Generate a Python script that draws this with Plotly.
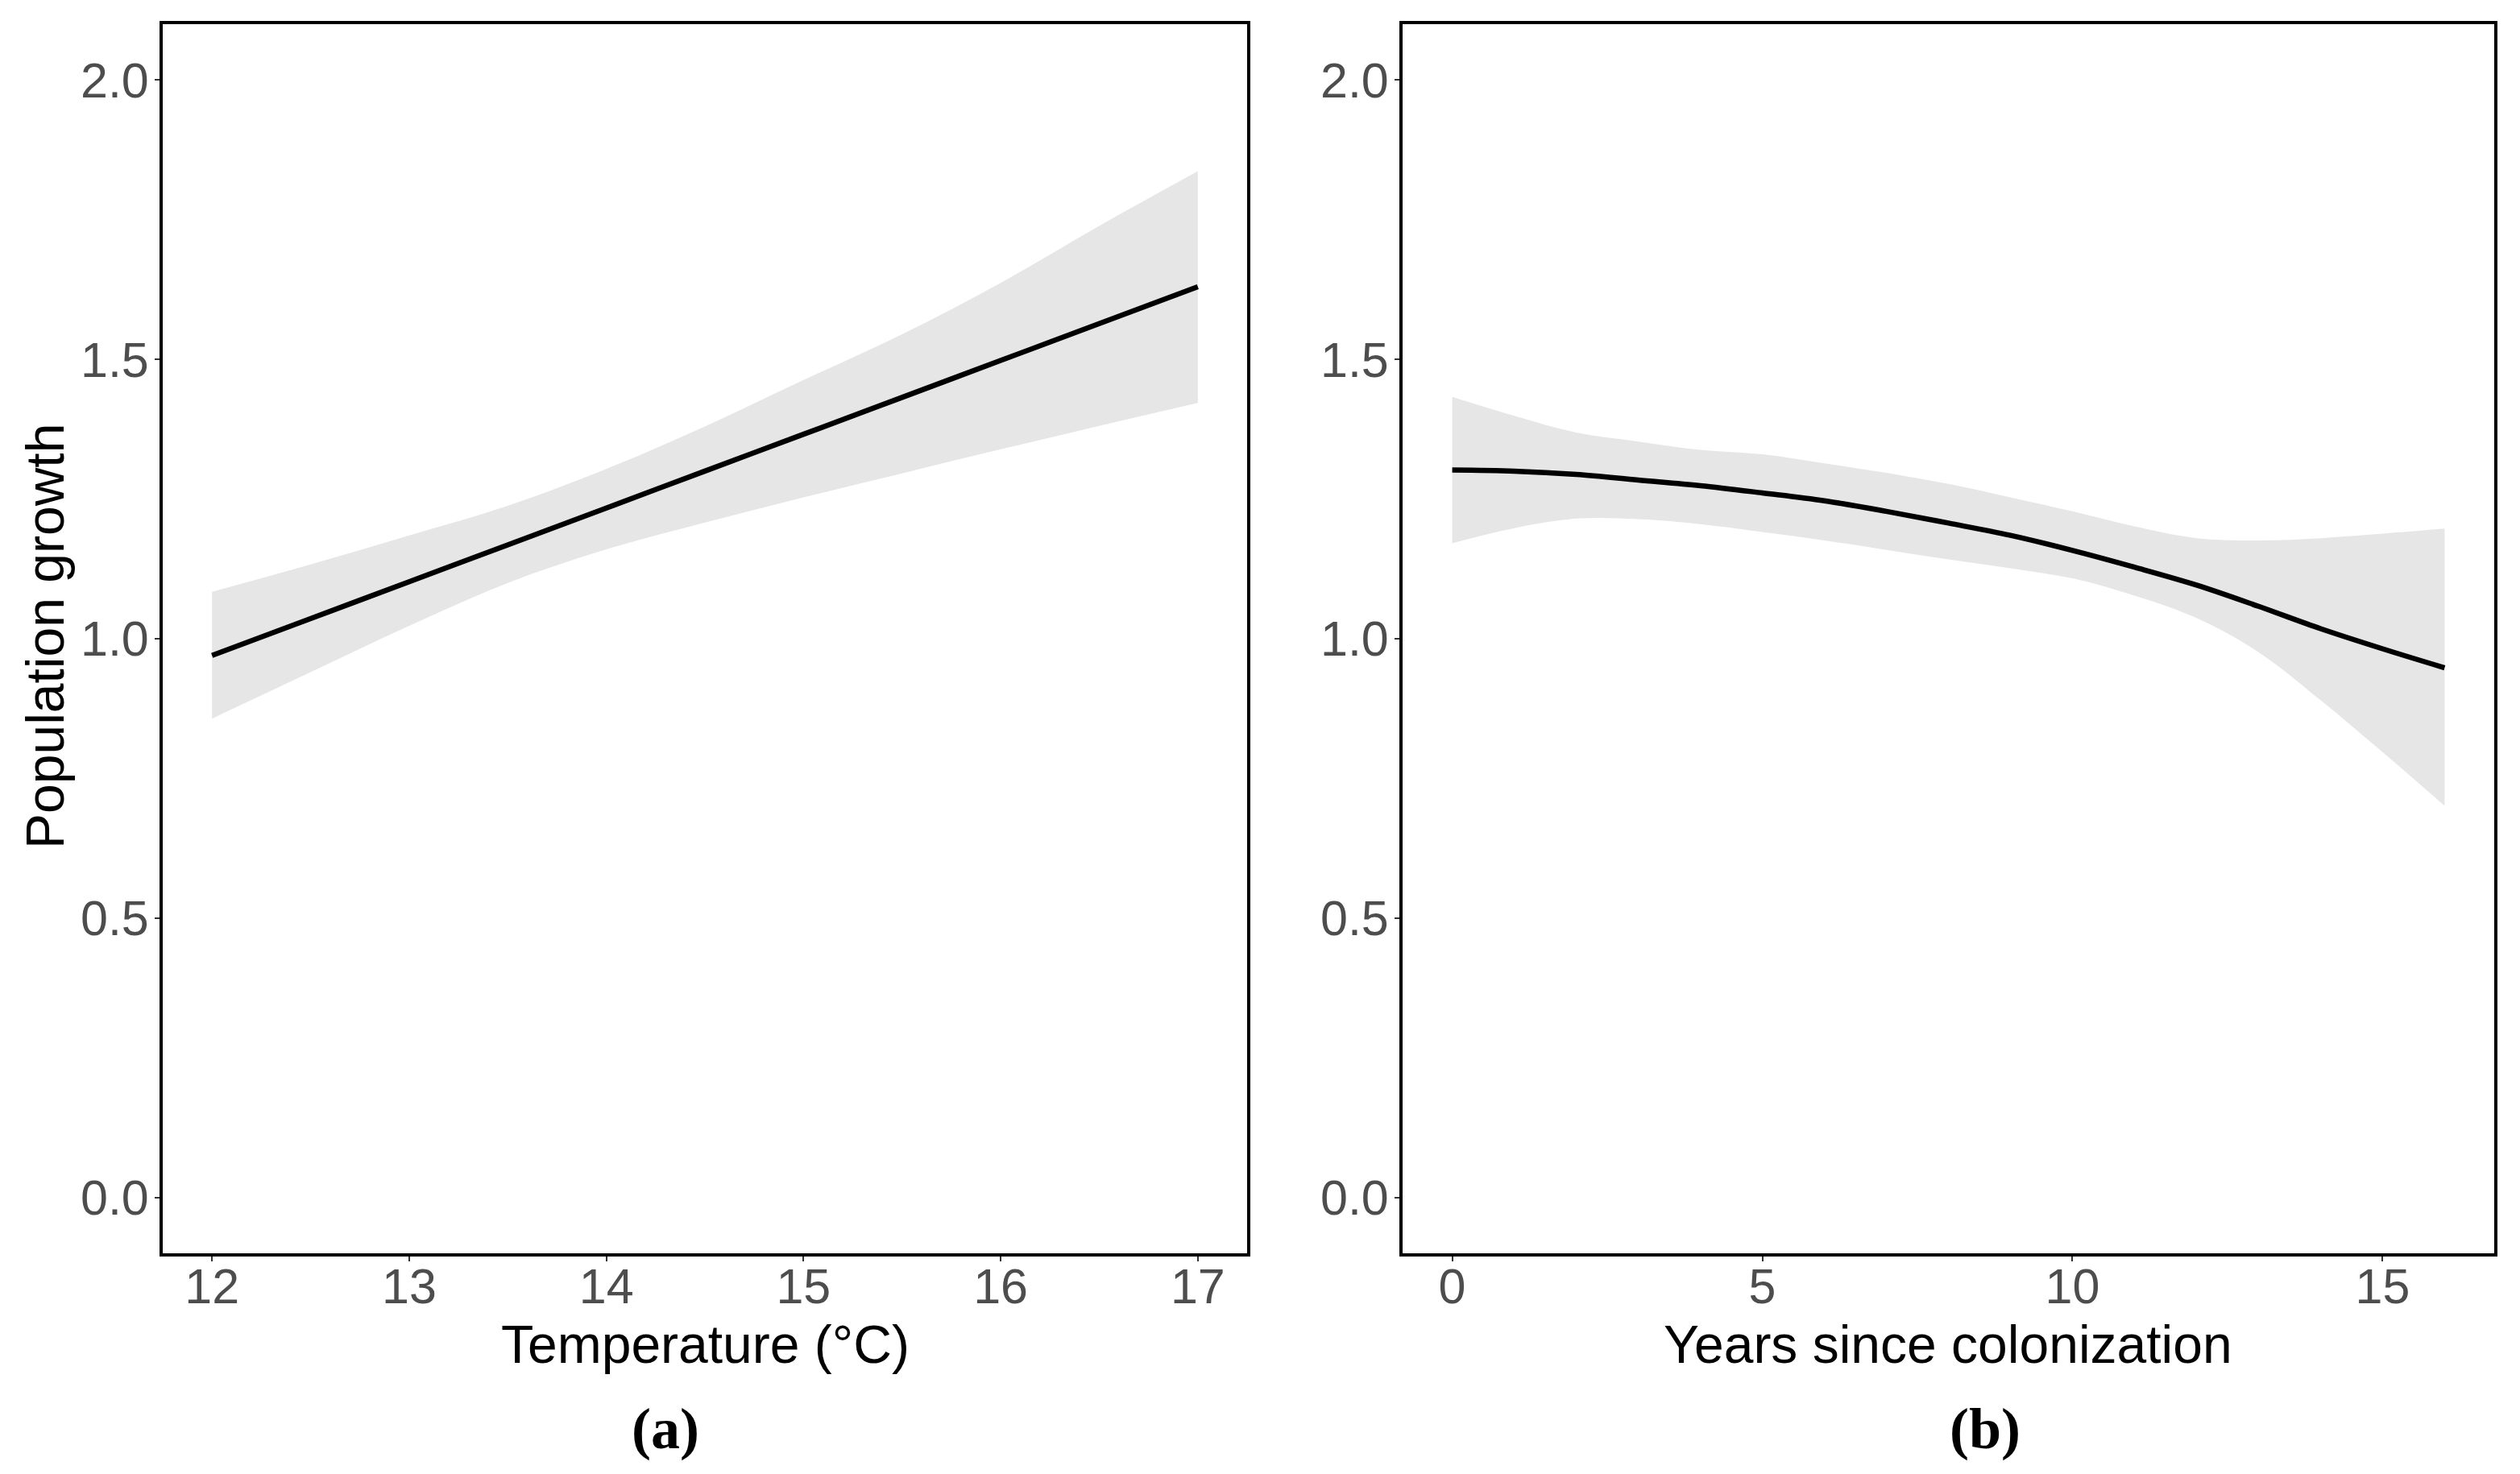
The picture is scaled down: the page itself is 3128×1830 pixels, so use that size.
import plotly.graph_objects as go

# Panel (a): temperature effect
temp_x = [12, 12.5, 13, 13.5, 14, 14.5, 15, 15.5, 16, 16.5, 17]
temp_fit = [0.970, 1.036, 1.102, 1.168, 1.234, 1.300, 1.366, 1.432, 1.498, 1.564, 1.630]
temp_upper = [1.084, 1.133, 1.185, 1.238, 1.304, 1.380, 1.463, 1.545, 1.637, 1.739, 1.837]
temp_lower = [0.857, 0.940, 1.023, 1.100, 1.160, 1.208, 1.253, 1.296, 1.339, 1.381, 1.422]

# Panel (b): years since colonization effect
years_x = list(range(0, 17))
years_fit = [1.302, 1.300, 1.294, 1.284, 1.274, 1.261, 1.247, 1.228, 1.207, 1.185,
             1.158, 1.128, 1.096, 1.058, 1.018, 0.982, 0.948]
years_upper = [1.433, 1.399, 1.369, 1.353, 1.338, 1.330, 1.314, 1.297, 1.277, 1.253,
               1.228, 1.201, 1.180, 1.176, 1.180, 1.188, 1.197]
years_lower = [1.171, 1.198, 1.215, 1.214, 1.205, 1.191, 1.176, 1.159, 1.142, 1.126,
               1.108, 1.077, 1.037, 0.976, 0.890, 0.797, 0.701]

y_ticks = [0.0, 0.5, 1.0, 1.5, 2.0]
y_tick_text = ["0.0", "0.5", "1.0", "1.5", "2.0"]
temp_ticks = [12, 13, 14, 15, 16, 17]
years_ticks = [0, 5, 10, 15]

x_titles = ["Temperature (°C)", "Years since colonization"]
y_title = "Population growth"
panel_labels = ["(a)", "(b)"]

RIBBON = "#E6E6E6"
OFF = 8                      # default page body margin
W, H = 3128 - 2 * OFF, 1830 - 2 * OFF


def px(xp):
    return (xp - OFF) / W


def py(yp):
    return 1 - (yp - OFF) / H


fig = go.Figure()


def add_panel(xs, fit, up, lo, xa, ya):
    fig.add_trace(go.Scatter(x=xs, y=lo, mode="lines", line=dict(width=0, color=RIBBON, shape="spline"),
                             xaxis=xa, yaxis=ya, showlegend=False, hoverinfo="skip"))
    fig.add_trace(go.Scatter(x=xs, y=up, mode="lines", line=dict(width=0, color=RIBBON, shape="spline"),
                             fill="tonexty", fillcolor=RIBBON,
                             xaxis=xa, yaxis=ya, showlegend=False, hoverinfo="skip"))
    fig.add_trace(go.Scatter(x=xs, y=fit, mode="lines", line=dict(width=6.5, color="black", shape="spline"),
                             xaxis=xa, yaxis=ya, showlegend=False))


add_panel(temp_x, temp_fit, temp_upper, temp_lower, "x", "y")
add_panel(years_x, years_fit, years_upper, years_lower, "x2", "y2")

ydom = [py(1556), py(30)]
tick_font = dict(family="Liberation Sans, Arial, sans-serif", size=61, color="#4D4D4D")
title_font = dict(family="Liberation Sans, Arial, sans-serif", size=66, color="black")

common_axis = dict(showline=True, linewidth=4, linecolor="black", mirror=True,
                   ticks="outside", ticklen=6, tickwidth=2, tickcolor="#333333",
                   showgrid=False, zeroline=False, tickfont=tick_font)

fig.update_layout(
    width=W, height=H,
    margin=dict(l=0, r=0, t=0, b=0),
    paper_bgcolor="white", plot_bgcolor="white",
    xaxis=dict(domain=[px(202), px(1548)], range=[11.75, 17.25], tickvals=temp_ticks,
               anchor="y", ticklabelstandoff=-21, **common_axis),
    yaxis=dict(domain=ydom, range=[-0.1, 2.1], tickvals=y_ticks, ticktext=y_tick_text,
               anchor="x", ticklabelstandoff=-5, **common_axis),
    xaxis2=dict(domain=[px(1741), px(3096)], range=[-0.8, 16.8], tickvals=years_ticks,
                anchor="y2", ticklabelstandoff=-21, **common_axis),
    yaxis2=dict(domain=ydom, range=[-0.1, 2.1], tickvals=y_ticks, ticktext=y_tick_text,
                anchor="x2", ticklabelstandoff=-5, **common_axis),
)

# axis titles
for txt, xc in zip(x_titles, [875, 2418]):
    fig.add_annotation(text=txt, x=px(xc), y=py(1669), xref="paper", yref="paper",
                       showarrow=False, font=title_font, xanchor="center", yanchor="middle")
fig.add_annotation(text=y_title, x=px(56), y=py(790), xref="paper", yref="paper", textangle=-90,
                   showarrow=False, font=title_font, xanchor="center", yanchor="middle")

label_font = dict(family="Liberation Serif, Times New Roman, serif", size=72, color="black")
for txt, xc in zip(panel_labels, [826, 2464]):
    fig.add_annotation(text="<b>" + txt + "</b>", x=px(xc), y=py(1774), xref="paper", yref="paper",
                       showarrow=False, font=label_font, xanchor="center", yanchor="middle")

fig.write_html("out.html")
